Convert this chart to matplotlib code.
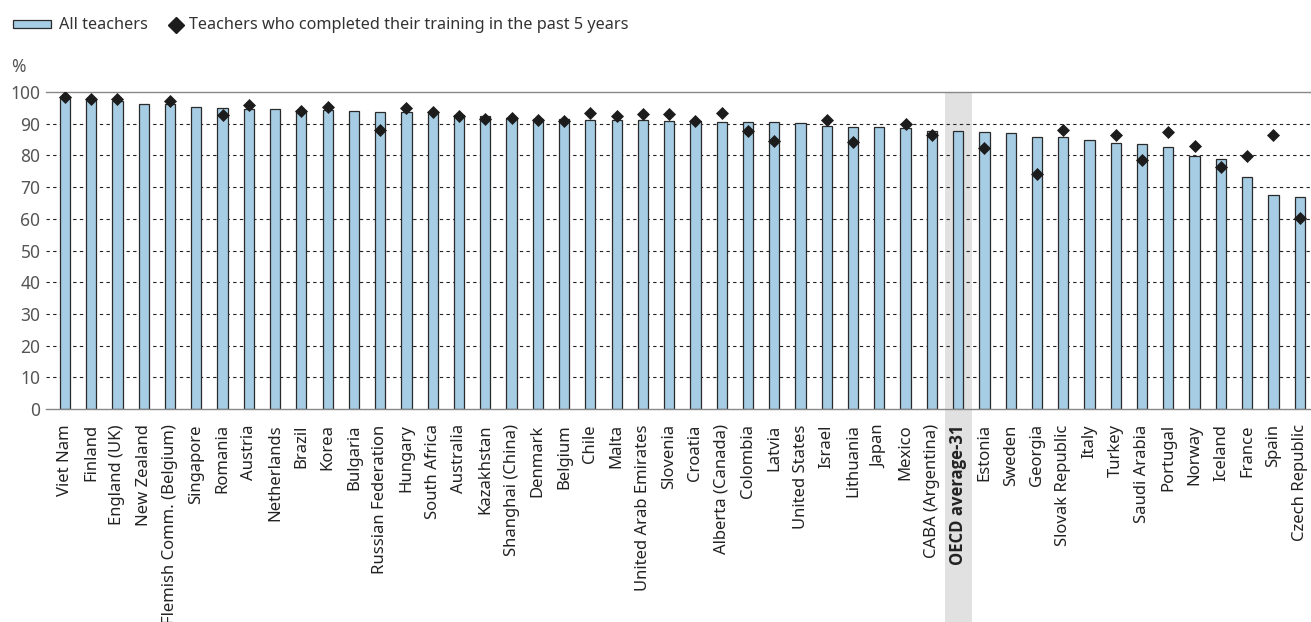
import numpy as np
import matplotlib.pyplot as plt
from matplotlib.patches import Rectangle
from matplotlib.lines import Line2D

plt.rcParams['font.family'] = ['Noto Sans', 'DejaVu Sans']

countries = ['Viet Nam', 'Finland', 'England (UK)', 'New Zealand', 'Flemish Comm. (Belgium)',
             'Singapore', 'Romania', 'Austria', 'Netherlands', 'Brazil', 'Korea', 'Bulgaria',
             'Russian Federation', 'Hungary', 'South Africa', 'Australia', 'Kazakhstan',
             'Shanghai (China)', 'Denmark', 'Belgium', 'Chile', 'Malta', 'United Arab Emirates',
             'Slovenia', 'Croatia', 'Alberta (Canada)', 'Colombia', 'Latvia', 'United States',
             'Israel', 'Lithuania', 'Japan', 'Mexico', 'CABA (Argentina)', 'OECD average-31',
             'Estonia', 'Sweden', 'Georgia', 'Slovak Republic', 'Italy', 'Turkey', 'Saudi Arabia',
             'Portugal', 'Norway', 'Iceland', 'France', 'Spain', 'Czech Republic']

all_teachers = [98.5, 97.8, 97.3, 96.1, 96.1, 95.2, 94.8, 94.6, 94.6, 94.0, 94.2, 93.9,
                93.6, 93.6, 93.3, 92.7, 92.3, 91.9, 91.5, 91.4, 91.3, 91.2, 91.2,
                91.0, 90.7, 90.5, 90.5, 90.4, 90.1, 89.3, 89.1, 88.9, 88.7, 87.8, 87.7,
                87.5, 87.0, 85.7, 85.7, 84.8, 83.8, 83.6, 82.6, 79.7, 78.8, 73.3, 67.4, 66.9]

# None = no value for recently trained teachers
recent = [98.5, 97.8, 97.8, None, 97.3, None, 92.8, 95.8, None, 94.0, 95.3, None,
          88.0, 95.1, 93.6, 92.4, 91.4, 91.7, 91.3, 90.7, 93.5, 92.3, 93.1,
          93.1, 90.9, 93.5, 87.6, 84.6, None, 91.2, 84.2, None, 89.8, 86.4, None,
          82.4, None, 74.2, 88.0, None, 86.3, 78.5, 87.5, 83.0, 76.2, 79.9, 86.5, 60.1]

legend_labels = ['All teachers', 'Teachers who completed their training in the past 5 years']
highlight = 'OECD average-31'

bar_color = '#a6cde4'
edge_color = '#2a2a2a'
dot_color = '#1c1c1c'

x = np.arange(len(countries))
rec = np.array([np.nan if v is None else v for v in recent])

W, H = 1311, 622
fig = plt.figure(figsize=(W / 100, H / 100), dpi=100)
ax = fig.add_axes([46 / W, 213 / H, 1265 / W, 317 / H])

# grey band behind the OECD average, running down through its label
hi = countries.index(highlight)
ax.add_patch(Rectangle((hi - 0.52, -0.68), 1.04, 1.68, transform=ax.get_xaxis_transform(),
                       facecolor='#e1e1e1', edgecolor='none', clip_on=False, zorder=0))

for yv in range(10, 100, 10):
    ax.axhline(yv, color='#222222', linestyle=(0, (3, 3)), linewidth=0.8, zorder=1)

ax.bar(x, all_teachers, width=0.39, color=bar_color, edgecolor=edge_color, linewidth=0.9, zorder=2)
ax.scatter(x, rec, marker='D', s=44, color=dot_color, zorder=3, linewidths=0)

ax.set_xlim(-0.72, 47.43)
ax.set_ylim(0, 100)
ax.set_yticks(range(0, 101, 10))
ax.tick_params(axis='y', length=0, labelsize=12.5, labelcolor='#555555', pad=4)
ax.set_xticks(x)
ax.set_xticklabels(countries, rotation=90, fontsize=12, color='#222222')
ax.tick_params(axis='x', length=0, pad=11)
for lbl in ax.get_xticklabels():
    if lbl.get_text() == highlight:
        lbl.set_fontfamily(['Open Sans', 'Noto Sans', 'DejaVu Sans'])
        lbl.set_fontweight('bold')

for s in ['left', 'right']:
    ax.spines[s].set_visible(False)
for s in ['top', 'bottom']:
    ax.spines[s].set_color('#888888')
    ax.spines[s].set_linewidth(1.0)

fig.text(11 / W, 1 - 67 / H, '%', fontsize=12.5, color='#555555', va='center')

# legend laid out by hand along the top
ly = 1 - 25 / H
fig.patches.append(Rectangle((13 / W, 1 - 28 / H), 38 / W, 8 / H, transform=fig.transFigure,
                             facecolor=bar_color, edgecolor=edge_color, linewidth=0.9))
fig.text(59 / W, ly, legend_labels[0], fontsize=11.7, color='#333333', va='center')
fig.add_artist(Line2D([176 / W], [ly], marker='D', markersize=8.5, color=dot_color,
                      linestyle='none', transform=fig.transFigure))
fig.text(189 / W, ly, legend_labels[1], fontsize=11.7, color='#333333', va='center')

fig.savefig('out.png', dpi=100)
